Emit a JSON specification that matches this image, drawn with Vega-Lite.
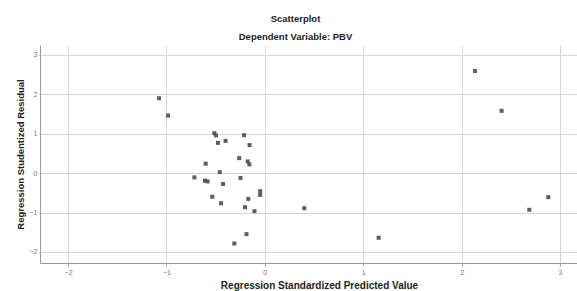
{
  "$schema": "https://vega.github.io/schema/vega-lite/v6.json",
  "autosize": {"type": "none"},
  "padding": {"left": 40, "top": 45, "right": 0, "bottom": 28},
  "width": 537,
  "height": 218,
  "background": "white",
  "title": {
    "text": "Scatterplot",
    "subtitle": "Dependent Variable: PBV",
    "anchor": "middle",
    "frame": "group",
    "dx": -13,
    "offset": 4,
    "font": "Liberation Sans",
    "fontSize": 9.5,
    "fontWeight": "bold",
    "color": "#222",
    "subtitleFont": "Liberation Sans",
    "subtitleFontSize": 9.5,
    "subtitleFontWeight": "bold",
    "subtitleColor": "#222",
    "subtitlePadding": 8
  },
  "data": {
    "values": [
      {"x": -1.075, "y": 1.90},
      {"x": -0.984, "y": 1.46},
      {"x": 0.401, "y": -0.89},
      {"x": 1.157, "y": -1.64},
      {"x": 2.136, "y": 2.59},
      {"x": 2.407, "y": 1.58},
      {"x": 2.881, "y": -0.61},
      {"x": 2.688, "y": -0.93},
      {"x": -0.513, "y": 1.013},
      {"x": -0.496, "y": 0.957},
      {"x": -0.211, "y": 0.962},
      {"x": -0.476, "y": 0.767},
      {"x": -0.399, "y": 0.817},
      {"x": -0.155, "y": 0.711},
      {"x": -0.260, "y": 0.381},
      {"x": -0.174, "y": 0.297},
      {"x": -0.157, "y": 0.221},
      {"x": -0.601, "y": 0.239},
      {"x": -0.458, "y": 0.025},
      {"x": -0.716, "y": -0.109},
      {"x": -0.608, "y": -0.190},
      {"x": -0.582, "y": -0.211},
      {"x": -0.425, "y": -0.274},
      {"x": -0.247, "y": -0.122},
      {"x": -0.534, "y": -0.599},
      {"x": -0.445, "y": -0.764},
      {"x": -0.168, "y": -0.655},
      {"x": -0.047, "y": -0.459},
      {"x": -0.047, "y": -0.553},
      {"x": -0.201, "y": -0.865},
      {"x": -0.105, "y": -0.967},
      {"x": -0.186, "y": -1.548},
      {"x": -0.310, "y": -1.784}
    ]
  },
  "mark": {"type": "square", "size": 16, "filled": true, "color": "#4d4d4d", "opacity": 0.9},
  "encoding": {
    "x": {
      "field": "x", "type": "quantitative",
      "scale": {"domain": [-2.285, 3.173], "nice": false, "zero": false},
      "axis": {
        "title": "Regression Standardized Predicted Value",
        "values": [-2, -1, 0, 1, 2, 3],
        "format": "d",
        "titleFont": "Liberation Sans", "titleFontSize": 10, "titleFontWeight": "bold", "titleColor": "#222",
        "titlePadding": 5, "titleX": 279,
        "labelFont": "Liberation Sans", "labelFontSize": 7, "labelColor": "#777", "labelPadding": 2,
        "tickSize": 3, "tickColor": "#aaa",
        "domainColor": "#999", "domainWidth": 1,
        "grid": true, "gridColor": "#d6d6d6", "gridWidth": 1
      }
    },
    "y": {
      "field": "y", "type": "quantitative",
      "scale": {"domain": [-2.28, 3.25], "nice": false, "zero": false},
      "axis": {
        "title": "Regression Studentized Residual",
        "values": [-2, -1, 0, 1, 2, 3],
        "format": "d",
        "titleFont": "Liberation Sans", "titleFontSize": 9.5, "titleFontWeight": "bold", "titleColor": "#222",
        "titlePadding": 4,
        "labelFont": "Liberation Sans", "labelFontSize": 7, "labelColor": "#777", "labelPadding": 2,
        "tickSize": 1, "tickColor": "#aaa",
        "domainColor": "#999", "domainWidth": 1,
        "grid": true, "gridColor": "#d6d6d6", "gridWidth": 1
      }
    }
  },
  "config": {"view": {"stroke": null}}
}
